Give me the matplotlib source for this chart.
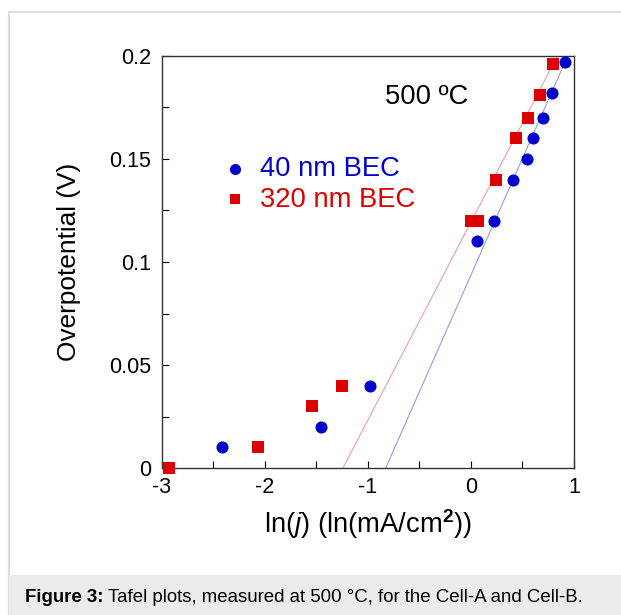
import matplotlib
matplotlib.use("Agg")
import matplotlib.pyplot as plt
from matplotlib.patches import Rectangle
from matplotlib.ticker import MultipleLocator
import numpy as np

plt.rcParams['font.family'] = ['Liberation Sans', 'DejaVu Sans']
plt.rcParams['mathtext.fontset'] = 'custom'
plt.rcParams['mathtext.rm'] = 'Liberation Sans'
plt.rcParams['mathtext.it'] = 'Liberation Sans:italic'
plt.rcParams['mathtext.bf'] = 'Liberation Sans:bold'

# 40 nm BEC (blue circles)
x_40 = [-2.42, -1.46, -0.98, 0.06, 0.22, 0.41, 0.54, 0.60, 0.70, 0.79, 0.91]
y_40 = [0.010, 0.020, 0.040, 0.110, 0.120, 0.140, 0.150, 0.160, 0.170, 0.182, 0.197]
# 320 nm BEC (red squares)
x_320 = [-2.93, -2.07, -1.54, -1.25, 0.00, 0.07, 0.24, 0.44, 0.55, 0.67, 0.80]
y_320 = [0.000, 0.010, 0.030, 0.040, 0.120, 0.120, 0.140, 0.160, 0.170, 0.181, 0.196]
# Tafel fit lines: x-intercept and slope (V per ln unit)
fit_40 = (-0.828, 0.1132)
fit_320 = (-1.243, 0.0961)

labels = ["40 nm BEC", "320 nm BEC"]
xticks = [-3, -2, -1, 0, 1]
xticklabels = ['-3', '-2', '-1', '0', '1']
yticks = [0, 0.05, 0.1, 0.15, 0.2]
yticklabels = ['0', '0.05', '0.1', '0.15', '0.2']
blue = "#0000cc"
red = "#dd0000"

W, H = 621, 615
fig = plt.figure(figsize=(W/100, H/100), dpi=100)

# outer frame and caption bar
fig.patches.append(Rectangle((8.5/W, -0.01), 1, (H-11.5)/H + 0.01, transform=fig.transFigure,
                             facecolor='white', edgecolor='#dedede', linewidth=1.5, zorder=0))
fig.patches.append(Rectangle((9.2/W, 0), 1, (H-575)/H, transform=fig.transFigure,
                             facecolor='#ebebeb', edgecolor='none', zorder=1))
cap_y = 1 - 597/H
t1 = fig.text(25/W, cap_y, "Figure 3:", fontsize=13.4, fontweight='bold', va='center', ha='left')
fig.canvas.draw()
bb = t1.get_window_extent(renderer=fig.canvas.get_renderer())
fig.text((bb.x1 + 4.5)/W, cap_y, "Tafel plots, measured at 500 °C, for the Cell-A and Cell-B.",
         fontsize=13.4, va='center', ha='left')

ax = fig.add_axes([162/W, 1-468/H, (574-162)/W, (468-56)/H])
ax.set_zorder(5)
ax.set_xlim(-3, 1)
ax.set_ylim(0, 0.2)

for (x0, m), c in [(fit_40, '#9999ee'), (fit_320, '#f0a0a0')]:
    yy = np.array([0.0, 0.2])
    ax.plot(x0 + yy/m, yy, color=c, linewidth=0.8, zorder=2)

ax.plot(x_40, y_40, 'o', color=blue, markersize=8.7, markeredgewidth=0, zorder=3, clip_on=False)
ax.plot(x_320, y_320, 's', color=red, markersize=8.5, markeredgewidth=0, zorder=3, clip_on=False)

# legend (manual, in data coords)
ax.plot([-2.29], [0.1450], 'o', color=blue, markersize=8.0, markeredgewidth=0)
ax.plot([-2.29], [0.1304], 's', color=red, markersize=7.8, markeredgewidth=0)
ax.text(-2.05, 0.1450, labels[0], color=blue, fontsize=19.7, va='center', ha='left')
ax.text(-2.05, 0.1302, labels[1], color=red, fontsize=19.7, va='center', ha='left')
ax.text(-0.427, 0.1800, "500 ºC", fontsize=19.7, va='center', ha='center')

ax.set_xticks(xticks)
ax.set_xticklabels(xticklabels)
ax.set_yticks(yticks)
ax.set_yticklabels(yticklabels)
ax.xaxis.set_minor_locator(MultipleLocator(0.5))
ax.yaxis.set_minor_locator(MultipleLocator(0.025))
ax.tick_params(which='both', direction='in', top=False, right=False, labelsize=15.5)
ax.tick_params(axis='y', which='both', pad=8)
ax.tick_params(axis='x', which='both', pad=6.5)
ax.tick_params(which='major', length=5, width=0.8)
ax.tick_params(which='minor', length=5, width=0.8)
for s in ax.spines.values():
    s.set_linewidth(1.0)
    s.set_color('#333333')

ax.set_xlabel(r"ln($\mathit{j}$) (ln(mA/cm$^{\mathbf{2}}$))", fontsize=19.7, va='center')
ax.xaxis.set_label_coords(0.5, (468-524)/412)
ax.set_ylabel("Overpotential (V)", fontsize=18.9, va='center')
ax.yaxis.set_label_coords((69-162)/412, 0.5)

fig.savefig("out.png", dpi=100)
